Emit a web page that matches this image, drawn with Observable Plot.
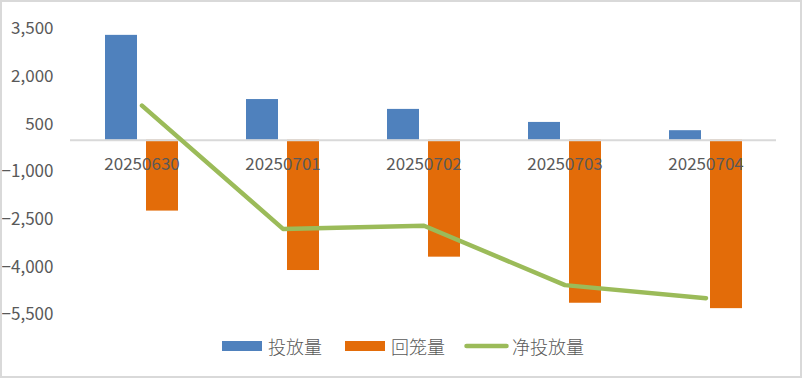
<!DOCTYPE html>
<html>
<head>
<meta charset="utf-8">
<script src="https://cdn.jsdelivr.net/npm/d3@7"></script>
<script src="https://cdn.jsdelivr.net/npm/@observablehq/plot@0.6"></script>
<style>
  html, body { margin: 0; padding: 0; background: #fff; }
  #wrap { position: relative; width: 802px; height: 378px; overflow: hidden; background: #fff;
          font-family: "Noto Sans CJK SC", "Noto Sans", sans-serif; }
  #frame { position: absolute; left: 0; top: 0; width: 802px; height: 378px; box-sizing: border-box;
           border: 2px solid #d9d9d9; pointer-events: none; }
  #chart { position: absolute; left: 0; top: 0; }
  #legend { position: absolute; left: 222px; top: 333px; display: flex; align-items: center;
            font-size: 18px; font-weight: 300; color: #595959; line-height: 26px; }
  .sw { display: inline-block; width: 40px; height: 10px; margin-right: 6px; }
  .item { display: flex; align-items: center; }
</style>
</head>
<body>
<div id="wrap">
  <div id="chart"></div>
  <div id="legend"></div>
  <div id="frame"></div>
</div>
<script>
const dates = ["20250630", "20250701", "20250702", "20250703", "20250704"];
const issued = [3300, 1280, 970, 560, 300];          // 投放量
const matured = [-2230, -4100, -3680, -5130, -5300]; // 回笼量
const net = [1090, -2790, -2690, -4560, -4970];      // 净投放量
const yTicks = [3500, 2000, 500, -1000, -2500, -4000, -5500];
const seriesNames = ["投放量", "回笼量", "净投放量"];
const colors = ["#4F81BD", "#E36C09", "#9BBB59"];

const rows = dates.map((d, i) => ({date: d, issued: issued[i], matured: matured[i], net: net[i]}));

const chart = Plot.plot({
  width: 802,
  height: 330,
  marginLeft: 70,
  marginRight: 26,
  marginTop: 28.5,
  marginBottom: 15.5,
  style: {fontFamily: "'Noto Sans CJK SC', 'Noto Sans', sans-serif", fontSize: "17px", color: "#595959", background: "transparent"},
  x: {type: "band", domain: dates, padding: 0, axis: null},
  y: {domain: [-5500, 3500], ticks: yTicks, tickFormat: d3.format(","), tickSize: 0, tickPadding: 17, label: null},
  marks: [
    Plot.barY(rows, {x: "date", y: "issued", fill: colors[0], insetLeft: 34, insetRight: 75}),
    Plot.barY(rows, {x: "date", y: "matured", fill: colors[1], insetLeft: 75, insetRight: 34}),
    Plot.ruleY([0], {stroke: "#d9d9d9", strokeWidth: 2}),
    Plot.text(rows, {x: "date", y: () => 0, text: "date", dy: 24.5, fill: "#595959", fontSize: 17}),
    Plot.line(rows, {x: "date", y: "net", stroke: colors[2], strokeWidth: 4.5, strokeLinecap: "round", strokeLinejoin: "round"})
  ]
});
document.getElementById("chart").appendChild(chart);

const legend = document.getElementById("legend");
const gaps = [0, 23, 19];
seriesNames.forEach((name, i) => {
  const item = document.createElement("div");
  item.className = "item";
  item.style.marginLeft = gaps[i] + "px";
  if (i < 2) {
    const sw = document.createElement("span");
    sw.className = "sw";
    sw.style.background = colors[i];
    item.appendChild(sw);
  } else {
    const ns = "http://www.w3.org/2000/svg";
    const svg = document.createElementNS(ns, "svg");
    svg.setAttribute("width", 45); svg.setAttribute("height", 10);
    svg.style.marginRight = "3px";
    const ln = document.createElementNS(ns, "line");
    ln.setAttribute("x1", 2.5); ln.setAttribute("x2", 42.5);
    ln.setAttribute("y1", 5); ln.setAttribute("y2", 5);
    ln.setAttribute("stroke", colors[2]); ln.setAttribute("stroke-width", 4.5);
    ln.setAttribute("stroke-linecap", "round");
    svg.appendChild(ln);
    item.appendChild(svg);
  }
  const t = document.createElement("span");
  t.textContent = name;
  item.appendChild(t);
  legend.appendChild(item);
});
</script>
</body>
</html>
